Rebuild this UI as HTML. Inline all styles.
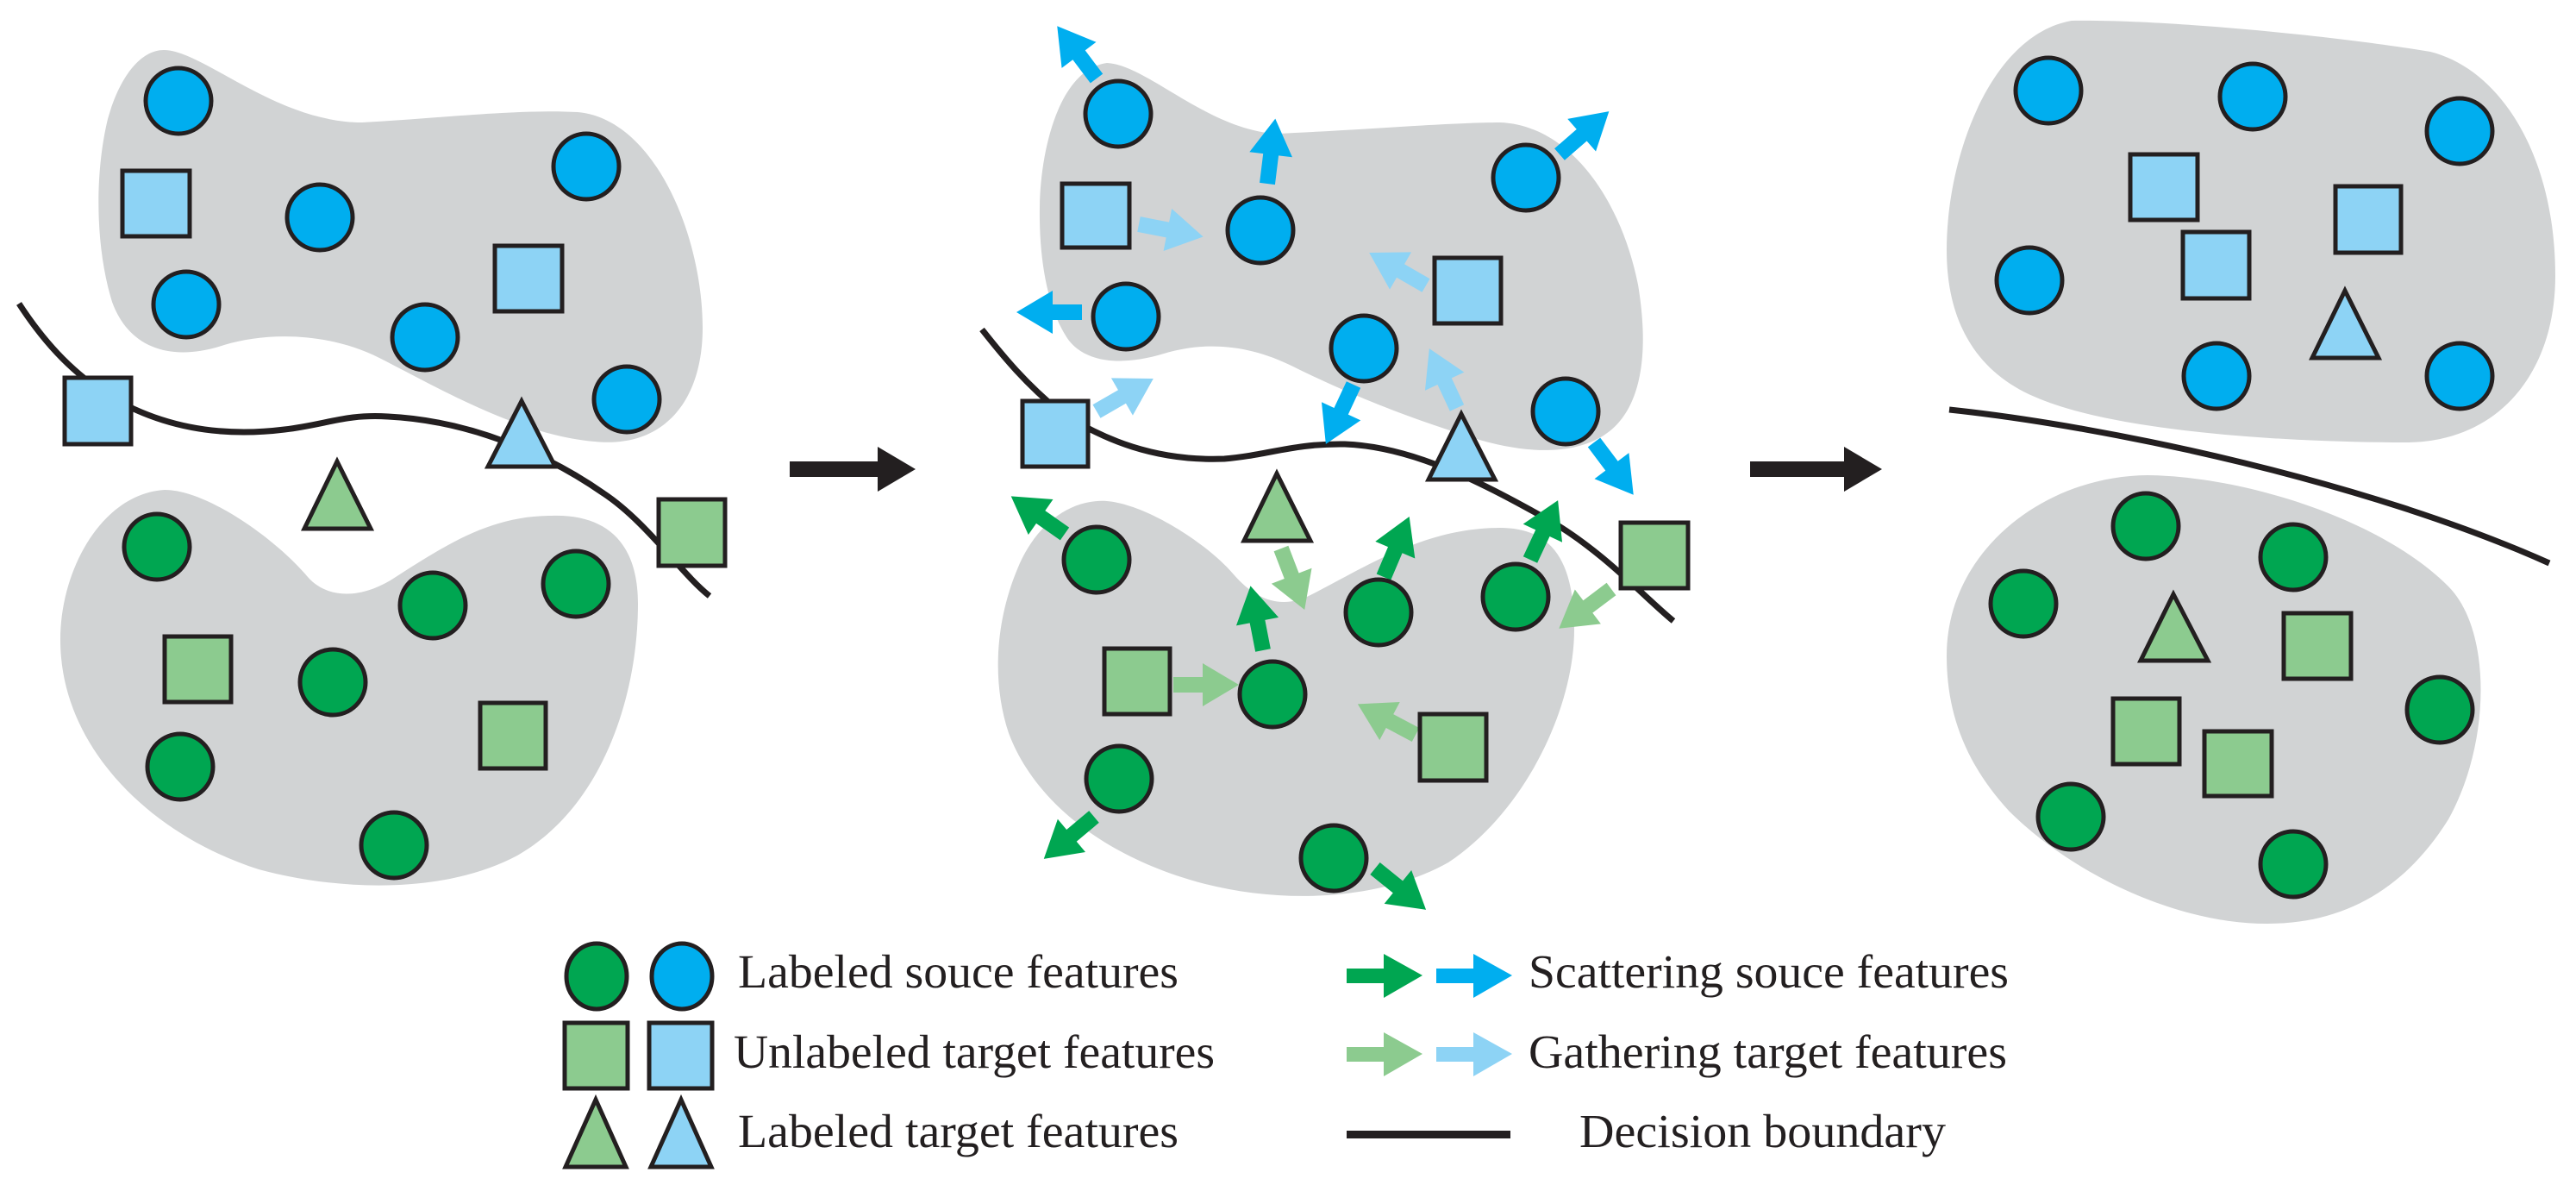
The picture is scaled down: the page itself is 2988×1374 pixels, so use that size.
<!DOCTYPE html>
<html><head><meta charset="utf-8"><style>html,body{margin:0;padding:0;background:#fff}svg{display:block}</style></head>
<body>
<svg width="2988" height="1374" viewBox="0 0 2988 1374" xmlns="http://www.w3.org/2000/svg">
<defs>
<polygon id="ar" points="0,-9 34,-9 34,-25 76,0 34,25 34,9 0,9"/>
</defs>
<g fill="#D1D3D4">
<path d="M 190 58 C 235 58, 320 142, 420 142 C 500 138, 600 126, 670 130 C 760 138, 815 275, 815 380 C 815 465, 770 520, 690 512 C 600 505, 500 445, 440 415 C 380 385, 310 385, 260 400 C 200 420, 150 405, 130 350 C 110 285, 110 200, 125 138 C 140 85, 165 58, 190 58 Z"/>
<path d="M 191 568 C 240 568, 320 625, 357 669 C 380 695, 420 695, 459 669 C 520 630, 570 598, 640 598 C 710 596, 740 636, 740 700 C 740 805, 700 935, 600 992 C 520 1035, 400 1035, 300 1008 C 180 970, 70 870, 70 742 C 70 658, 120 572, 191 568 Z"/>
<path d="M 1284 73 C 1330 75, 1400 150, 1480 155 C 1560 152, 1680 142, 1740 142 C 1820 145, 1880 230, 1900 330 C 1915 420, 1900 480, 1860 505 C 1820 530, 1760 525, 1700 505 C 1620 480, 1550 450, 1500 425 C 1450 400, 1400 395, 1350 410 C 1300 425, 1260 420, 1240 395 C 1215 360, 1205 300, 1206 240 C 1207 170, 1230 80, 1284 73 Z"/>
<path d="M 1284 581 C 1330 585, 1400 630, 1430 665 C 1460 700, 1490 705, 1520 690 C 1580 660, 1650 612, 1740 612 C 1800 612, 1826 650, 1826 730 C 1826 820, 1770 940, 1680 1000 C 1600 1045, 1480 1050, 1380 1020 C 1280 990, 1200 930, 1170 850 C 1150 790, 1155 720, 1180 660 C 1200 610, 1240 578, 1284 581 Z"/>
<path d="M 2403 24 C 2500 22, 2700 40, 2819 60 C 2900 80, 2964 180, 2964 320 C 2964 430, 2900 513, 2790 513 C 2650 513, 2450 500, 2360 460 C 2290 430, 2258 370, 2258 290 C 2258 180, 2310 40, 2403 24 Z"/>
<path d="M 2491 551 C 2600 552, 2760 600, 2840 680 C 2890 730, 2890 860, 2840 950 C 2790 1030, 2720 1071, 2630 1071 C 2520 1071, 2400 1010, 2330 940 C 2275 880, 2258 820, 2258 760 C 2258 640, 2370 552, 2491 551 Z"/>
</g>
<g fill="none" stroke="#231F20" stroke-width="7">
<path d="M 22 352 C 50 395, 80 428, 120 455 C 180 493, 250 508, 330 498 C 380 492, 400 480, 450 483 C 550 488, 640 530, 700 572 C 750 605, 790 665, 823 691"/>
<path d="M 1139 382 C 1165 415, 1190 445, 1230 478 C 1280 510, 1340 535, 1420 532 C 1470 528, 1500 514, 1560 515 C 1640 518, 1720 560, 1800 605 C 1860 640, 1910 695, 1941 720"/>
<path d="M 2261 475 C 2450 495, 2750 560, 2957 653"/>
</g>
<g fill="#231F20">
<polygon points="916,535 1018,535 1018,518 1062,544 1018,570 1018,553 916,553"/>
<polygon points="2030,535 2139,535 2139,518 2183,544 2139,570 2139,553 2030,553"/>
</g>
<g fill="#00AEEF">
<use href="#ar" transform="translate(1272,91) rotate(-127)"/>
<use href="#ar" transform="translate(1470,213) rotate(-83)"/>
<use href="#ar" transform="translate(1809,179) rotate(-41)"/>
<use href="#ar" transform="translate(1255,362) rotate(180)"/>
<use href="#ar" transform="translate(1570,446) rotate(115)"/>
<use href="#ar" transform="translate(1849,513) rotate(53)"/>
</g>
<g fill="#8DD3F5">
<use href="#ar" transform="translate(1321,260) rotate(11)"/>
<use href="#ar" transform="translate(1272,477) rotate(-30)"/>
<use href="#ar" transform="translate(1654,331) rotate(-150)"/>
<use href="#ar" transform="translate(1690,473) rotate(-115)"/>
</g>
<g fill="#00A651">
<use href="#ar" transform="translate(1235,619) rotate(-145)"/>
<use href="#ar" transform="translate(1465,754) rotate(-101)"/>
<use href="#ar" transform="translate(1605,669) rotate(-67)"/>
<use href="#ar" transform="translate(1775,649) rotate(-65)"/>
<use href="#ar" transform="translate(1269,947) rotate(140)"/>
<use href="#ar" transform="translate(1595,1007) rotate(39)"/>
</g>
<g fill="#8CCB8F">
<use href="#ar" transform="translate(1486,636) rotate(69)"/>
<use href="#ar" transform="translate(1361,794) rotate(0)"/>
<use href="#ar" transform="translate(1642,852) rotate(-152)"/>
<use href="#ar" transform="translate(1869,683) rotate(143)"/>
</g>
<g stroke="#231F20" stroke-width="5">
<g fill="#00AEEF">
<circle cx="207" cy="117" r="38"/><circle cx="371" cy="252" r="38"/><circle cx="680" cy="193" r="38"/>
<circle cx="216" cy="353" r="38"/><circle cx="493" cy="391" r="38"/><circle cx="727" cy="463" r="38"/>
<circle cx="1297" cy="132" r="38"/><circle cx="1462" cy="267" r="38"/><circle cx="1770" cy="206" r="38"/>
<circle cx="1306" cy="367" r="38"/><circle cx="1582" cy="404" r="38"/><circle cx="1816" cy="477" r="38"/>
<circle cx="2376" cy="105" r="38"/><circle cx="2613" cy="112" r="38"/><circle cx="2853" cy="152" r="38"/>
<circle cx="2354" cy="325" r="38"/><circle cx="2571" cy="436" r="38"/><circle cx="2853" cy="436" r="38"/>
<ellipse cx="791" cy="1132" rx="35" ry="38"/>
</g>
<g fill="#00A651">
<circle cx="182" cy="634" r="38"/><circle cx="502" cy="702" r="38"/><circle cx="668" cy="677" r="38"/>
<circle cx="386" cy="791" r="38"/><circle cx="209" cy="889" r="38"/><circle cx="457" cy="980" r="38"/>
<circle cx="1272" cy="649" r="38"/><circle cx="1599" cy="710" r="38"/><circle cx="1758" cy="692" r="38"/>
<circle cx="1476" cy="805" r="38"/><circle cx="1298" cy="903" r="38"/><circle cx="1547" cy="995" r="38"/>
<circle cx="2489" cy="610" r="38"/><circle cx="2660" cy="646" r="38"/><circle cx="2347" cy="700" r="38"/>
<circle cx="2830" cy="823" r="38"/><circle cx="2402" cy="947" r="38"/><circle cx="2660" cy="1002" r="38"/>
<ellipse cx="692" cy="1132" rx="35" ry="38"/>
</g>
<g fill="#8DD3F5">
<rect x="142" y="198" width="78" height="76"/><rect x="574" y="285" width="78" height="76"/><rect x="75" y="438" width="77" height="77"/>
<rect x="1232" y="213" width="78" height="74"/><rect x="1664" y="299" width="77" height="76"/><rect x="1186" y="465" width="76" height="76"/>
<rect x="2471" y="179" width="78" height="76"/><rect x="2532" y="269" width="77" height="77"/><rect x="2709" y="216" width="76" height="77"/>
<polygon points="605,465 566,541 644,541"/><polygon points="1695,480 1657,556 1734,556"/><polygon points="2720,337 2682,415 2759,415"/>
<rect x="753" y="1186" width="73" height="76"/>
<polygon points="790,1275 755,1353 825,1353"/>
</g>
<g fill="#8CCB8F">
<rect x="764" y="579" width="77" height="77"/><rect x="191" y="738" width="77" height="76"/><rect x="557" y="815" width="76" height="76"/>
<rect x="1880" y="606" width="78" height="76"/><rect x="1281" y="752" width="76" height="76"/><rect x="1647" y="828" width="77" height="77"/>
<rect x="2649" y="711" width="78" height="76"/><rect x="2451" y="810" width="77" height="76"/><rect x="2557" y="848" width="78" height="75"/>
<polygon points="391,535 353,613 430,613"/><polygon points="1481,549 1443,627 1520,627"/><polygon points="2521,689 2483,766 2561,766"/>
<rect x="655" y="1186" width="73" height="76"/>
<polygon points="691,1275 656,1353 726,1353"/>
</g>
</g>
<polygon fill="#00A651" points="1562,1123 1605,1123 1605,1106 1650,1131 1605,1157 1605,1140 1562,1140"/>
<polygon fill="#00AEEF" points="1666,1123 1709,1123 1709,1106 1754,1131 1709,1157 1709,1140 1666,1140"/>
<polygon fill="#8CCB8F" points="1562,1214 1605,1214 1605,1197 1650,1222 1605,1248 1605,1231 1562,1231"/>
<polygon fill="#8DD3F5" points="1666,1214 1709,1214 1709,1197 1754,1222 1709,1248 1709,1231 1666,1231"/>
<rect x="1562" y="1311" width="190" height="9" fill="#231F20"/>
<g font-family="'Liberation Serif', serif" font-size="55" fill="#231F20">
<text x="856" y="1145" textLength="511" lengthAdjust="spacingAndGlyphs">Labeled souce features</text>
<text x="851" y="1238" textLength="558" lengthAdjust="spacingAndGlyphs">Unlabeled target features</text>
<text x="856" y="1330" textLength="511" lengthAdjust="spacingAndGlyphs">Labeled target features</text>
<text x="1773" y="1145" textLength="557" lengthAdjust="spacingAndGlyphs">Scattering souce features</text>
<text x="1773" y="1238" textLength="555" lengthAdjust="spacingAndGlyphs">Gathering target features</text>
<text x="1832" y="1330" textLength="425" lengthAdjust="spacingAndGlyphs">Decision boundary</text>
</g>
</svg>
</body></html>
